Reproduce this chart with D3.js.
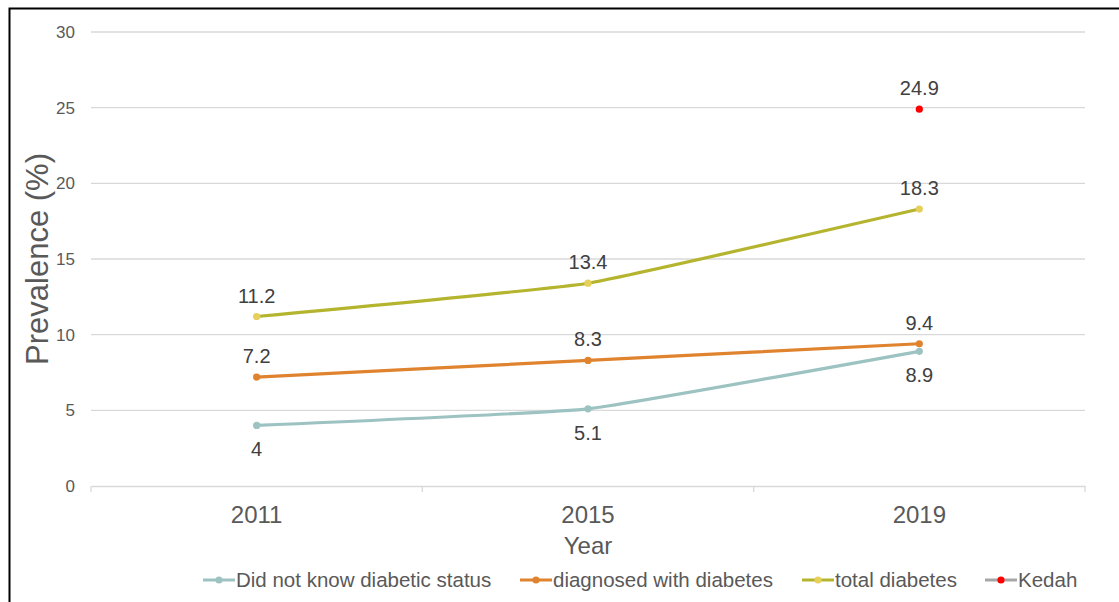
<!DOCTYPE html>
<html>
<head>
<meta charset="utf-8">
<script src="https://cdn.jsdelivr.net/npm/d3@7"></script>
<style>
  body { margin: 0; background: #fff; }
  text { font-family: "Liberation Sans", Arial, sans-serif; }
</style>
</head>
<body>
<div id="chart"></div>
<script>
const years = ["2011", "2015", "2019"];
const didNotKnow = [4, 5.1, 8.9];
const diagnosed = [7.2, 8.3, 9.4];
const totalDiabetes = [11.2, 13.4, 18.3];
const kedah = [null, null, 24.9];
const yTicks = [0, 5, 10, 15, 20, 25, 30];

const series = [
  { name: "Did not know diabetic status", values: didNotKnow, line: "#9cc3c1", dot: "#9cc3c1", labelPos: "below" },
  { name: "diagnosed with diabetes", values: diagnosed, line: "#e0832f", dot: "#e0832f", labelPos: "above" },
  { name: "total diabetes", values: totalDiabetes, line: "#b4b42e", dot: "#e6cf5b", labelPos: "above" },
  { name: "Kedah", values: kedah, line: "#a6a6a6", dot: "#ff0000", labelPos: "above" }
];

const width = 1119, height = 602;
const svg = d3.select("#chart").append("svg")
  .attr("width", width).attr("height", height);

// outer frame
svg.append("rect")
  .attr("x", 9.5).attr("y", 8.5)
  .attr("width", width + 20).attr("height", height + 20)
  .attr("fill", "none").attr("stroke", "#000").attr("stroke-width", 2);

const margin = { left: 91, right: 1085, top: 32, bottom: 486 };

const x = d3.scaleBand().domain(years).range([margin.left, margin.right]);
const y = d3.scaleLinear().domain([0, 30]).range([margin.bottom, margin.top]);

// gridlines
svg.append("g").selectAll("line").data(yTicks.filter(d => d > 0)).join("line")
  .attr("x1", margin.left).attr("x2", margin.right)
  .attr("y1", d => y(d)).attr("y2", d => y(d))
  .attr("stroke", "#d9d9d9").attr("stroke-width", 1.3);

// y tick labels
svg.append("g").selectAll("text").data(yTicks).join("text")
  .attr("x", 75).attr("y", d => y(d) + 6)
  .attr("text-anchor", "end")
  .attr("font-size", 17).attr("fill", "#595959")
  .text(d => d);

// x axis
const xAxis = svg.append("g").attr("transform", `translate(0,${margin.bottom})`)
  .call(d3.axisBottom(x).tickSize(0).tickPadding(0).tickFormat(""));
xAxis.select(".domain").attr("stroke", "#d9d9d9").attr("stroke-width", 1.3);
const edges = years.map(d => x(d)).concat([margin.right]);
xAxis.selectAll(".sep").data(edges).join("line").attr("class", "sep")
  .attr("x1", d => d).attr("x2", d => d).attr("y1", 0).attr("y2", 6)
  .attr("stroke", "#d9d9d9").attr("stroke-width", 1.3);

svg.append("g").selectAll("text").data(years).join("text")
  .attr("x", d => x(d) + x.bandwidth() / 2).attr("y", 523)
  .attr("text-anchor", "middle").attr("font-size", 24).attr("fill", "#595959")
  .text(d => d);

// axis titles
svg.append("text")
  .attr("x", x(years[1]) + x.bandwidth() / 2).attr("y", 554)
  .attr("text-anchor", "middle").attr("font-size", 24).attr("fill", "#595959")
  .text("Year");

svg.append("text")
  .attr("transform", `translate(48,${(margin.top + margin.bottom) / 2}) rotate(-90)`)
  .attr("text-anchor", "middle").attr("font-size", 31).attr("fill", "#595959")
  .text("Prevalence (%)");

// lines (Excel-style gentle smoothing)
const cx = i => x(years[i]) + x.bandwidth() / 2;
const line = d3.line()
  .defined(d => d != null)
  .x((d, i) => cx(i)).y(d => y(d))
  .curve(d3.curveCardinal.tension(0.7));

series.forEach(s => {
  const g = svg.append("g");
  g.append("path").datum(s.values)
    .attr("d", line)
    .attr("fill", "none").attr("stroke", s.line).attr("stroke-width", 3.2)
    .attr("stroke-linecap", "round");
  const pts = s.values.map((v, i) => ({ v, i })).filter(d => d.v != null);
  g.selectAll("circle").data(pts).join("circle")
    .attr("cx", d => cx(d.i)).attr("cy", d => y(d.v)).attr("r", 3.6)
    .attr("fill", s.dot);
  g.selectAll("text").data(pts).join("text")
    .attr("x", d => cx(d.i))
    .attr("y", d => s.labelPos === "below" ? y(d.v) + 31 : y(d.v) - 14)
    .attr("text-anchor", "middle").attr("font-size", 20).attr("fill", "#404040")
    .text(d => d.v);
});

// legend
const legendX = [203, 520, 802, 985];
const legendY = 580;
const lg = svg.append("g").selectAll("g").data(series).join("g")
  .attr("transform", (d, i) => `translate(${legendX[i]},${legendY})`);
lg.append("line").attr("x1", 0).attr("x2", 32).attr("y1", 0).attr("y2", 0)
  .attr("stroke", d => d.line).attr("stroke-width", 3);
lg.append("circle").attr("cx", 16).attr("cy", 0).attr("r", 3.6)
  .attr("fill", d => d.dot);
lg.append("text").attr("x", 33).attr("y", 7)
  .attr("font-size", 20.5).attr("fill", "#595959")
  .text(d => d.name);
</script>
</body>
</html>
